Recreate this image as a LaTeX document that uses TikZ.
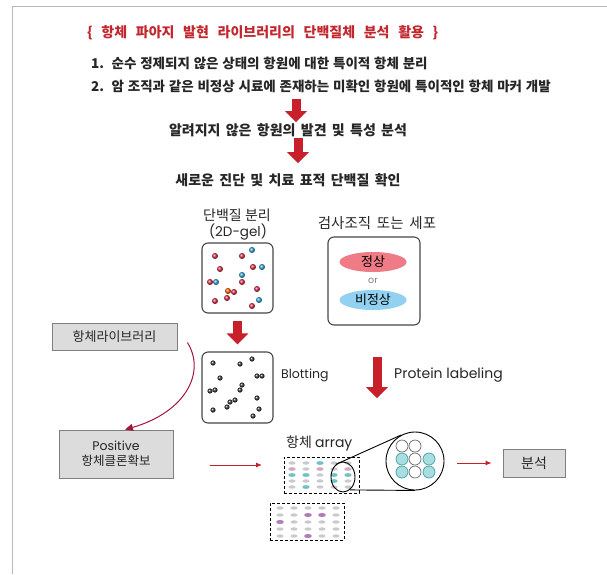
\documentclass[tikz,border=0pt]{standalone}
\usepackage{fontspec}
\setmainfont{Noto Sans CJK KR}
\newfontfamily\latin{Poppins}
\usetikzlibrary{arrows.meta,shapes.geometric}

\definecolor{TitleRed}{HTML}{C1272D}
\definecolor{ArrowRed}{HTML}{C8202A}
\definecolor{CurveRed}{HTML}{A3173F}
\definecolor{GelRed}{HTML}{E12A45}
\definecolor{GelBlue}{HTML}{2FA3DA}
\definecolor{NormalRed}{HTML}{EE7B85}
\definecolor{AbnormBlue}{HTML}{92D2F0}
\definecolor{SpotGray}{HTML}{C9C9CE}
\definecolor{SpotTeal}{HTML}{6CC3C3}
\definecolor{SpotPink}{HTML}{D9A6C0}
\definecolor{SpotPurple}{HTML}{B07CB8}
\definecolor{DotTeal}{HTML}{A8DDE2}
\definecolor{BoxGray}{HTML}{DCDCDC}
\definecolor{EdgeGray}{HTML}{7F7F7F}
\definecolor{Ink}{HTML}{262626}

% word spacing for the wide headings
\newcommand\headsp{\spaceskip=0.38em\relax}
\newcommand\listsp{\spaceskip=0.28em\relax}
\newcommand\titlesp{\spaceskip=0.62em\relax}
\newcommand\labelsp{\spaceskip=0.4em\relax}

\begin{document}
\begin{tikzpicture}[x=1pt,y=-1pt,font=\fontsize{13}{15}\selectfont,
  txt/.style={inner sep=1pt,text=Ink},
  head/.style={txt,font=\fontsize{14}{16}\selectfont\bfseries\headsp},
  listline/.style={txt,anchor=west,font=\fontsize{13.5}{16}\selectfont\bfseries\listsp},
  roundbox/.style={draw=Ink!85,line width=1.1pt,rounded corners=6pt},
  graybox/.style={draw=EdgeGray,fill=BoxGray,line width=0.8pt,align=center,text=Ink},
  arraybox/.style={draw=black,dash pattern=on 3pt off 2pt,line width=0.9pt},
  bigarrow/.style={ArrowRed,line width=9pt,-{Triangle[width=21pt,length=11pt]}},
  thinarrow/.style={ArrowRed,line width=0.9pt,-{Latex[length=6pt,width=5pt]}},
  curvearrow/.style={CurveRed,line width=1pt,-{Triangle[length=8pt,width=7pt]}}]
  \useasboundingbox (0,0) rectangle (607,574);

  % frame
  \draw[gray!55,line width=0.8pt] (12,574) |- (607,6);

  % headings
  \node[head,anchor=west,text=TitleRed,font=\fontsize{14}{16}\selectfont\bfseries\titlesp] (title) at (86,33)
    {\{ 항체 파아지 발현 라이브러리의 단백질체 분석 활용 \}};
  \node[listline] (line1) at (90,63)
    {1.\ \ 순수 정제되지 않은 상태의 항원에 대한 특이적 항체 분리};
  \node[listline] (line2) at (90,86)
    {2.\ \ 암 조직과 같은 비정상 시료에 존재하는 미확인 항원에 특이적인 항체 마커 개발};
  \node[head] (find) at (288,130) {알려지지 않은 항원의 발견 및 특성 분석};
  \node[head] (confirm) at (288,180) {새로운 진단 및 치료 표적 단백질 확인};

  \coordinate (a1) at (296,0);
  \coordinate (a2) at (298,0);
  \draw[bigarrow,shorten <=5pt] (line2.south -| a1) -- (find.north -| a1);
  \draw[bigarrow,shorten >=9pt] (find.south -| a2) -- (confirm.north -| a2);

  % 2D gel
  \node[txt,font=\fontsize{14}{16}\selectfont] (gellabel) at (237,215) {단백질 분리};
  \node[txt,font=\latin\fontsize{13.5}{15}\selectfont] (gelsub) at (238,232) {(2D-gel)};
  \node[roundbox,minimum width=71pt,minimum height=70pt] (gel) at (237.5,278) {};
  \foreach \x/\y in {215/256,242/256,220/269,253/267,210/282,242/282,257/289,
                     234/292,227/298,215/301,252/306}
    \shade[ball color=GelRed] (\x,\y) circle (3pt);
  \foreach \x/\y in {252/250,262/267,242/275,216/282,259/300}
    \shade[ball color=GelBlue] (\x,\y) circle (3pt);
  \shade[ball color=orange!70!red] (228,291) circle (3pt);

  % tissue or cells
  \node[txt,font=\fontsize{14.5}{16}\selectfont\labelsp] (biolabel) at (377,223) {검사조직 또는 세포};
  \node[roundbox,minimum width=92pt,minimum height=88pt] (bio) at (374,281) {};
  \node[ellipse,fill=NormalRed,minimum width=67pt,minimum height=20pt,inner sep=0pt] (normal) at (373,262) {정상};
  \node[txt,font=\latin\fontsize{9.5}{10}\selectfont,text=gray] (or) at (373,281) {or};
  \node[ellipse,fill=AbnormBlue,minimum width=67pt,minimum height=20pt,inner sep=0pt] (abnormal) at (373,300) {비정상};

  % blotting
  \node[roundbox,minimum width=71pt,minimum height=71pt] (blot) at (237.5,387.5) {};
  \foreach \x/\y in {213/363,240/364,252/359,220/378,257/376,262/376,242/385,
                     240/390,210/391,215/390,257/398,230/402,235/400,227/407,
                     213/410,259/409,253/416}
    \shade[ball color=black!80] (\x,\y) circle (2.6pt);
  \node[txt,anchor=west,font=\latin\fontsize{12.5}{14}\selectfont] (blotlabel) at (280,375) {Blotting};
  \draw[bigarrow,shorten <=7pt,shorten >=7pt] (gel.south) -- (blot.north);

  % library and clones
  \node[graybox,minimum width=125pt,minimum height=27pt] (lib) at (114.5,336.5) {항체라이브러리};
  \node[graybox,minimum width=114pt,minimum height=48pt,font=\fontsize{12.5}{15}\selectfont] (pos) at (116,454)
    {{\latin Positive}\\항체클론확보};
  \draw[curvearrow] ([xshift=10pt,yshift=-6pt]lib.east) .. controls (206,372) and (186,412) .. ([xshift=9pt]pos.north);

  % antibody array
  \node[txt,anchor=west,font=\fontsize{14}{16}\selectfont] (arrlabel) at (285,443) {항체 {\latin array}};
  \node[arraybox,minimum width=75pt,minimum height=36pt] (arr1) at (321.5,475) {};
  \node[arraybox,minimum width=74pt,minimum height=37pt] (arr2) at (307,521.5) {};
  \foreach \x in {292,306,320,334,348}
    \foreach \y in {463,469,475,481,487}
      \fill[SpotGray] (\x,\y) ellipse [x radius=3.6pt,y radius=1.7pt];
  \foreach \x/\y in {320/463,292/475,306/475,334/475,348/475,334/481,306/487}
    \fill[SpotTeal] (\x,\y) ellipse [x radius=3.6pt,y radius=1.8pt];
  \foreach \x/\y in {292/469,320/469,348/469}
    \fill[SpotPink] (\x,\y) ellipse [x radius=3.6pt,y radius=1.7pt];
  \foreach \x in {280,294,308,322,336}
    \foreach \y in {508,515,522,529,536}
      \fill[SpotGray] (\x,\y) ellipse [x radius=3.6pt,y radius=1.7pt];
  \foreach \x/\y in {308/515,322/515,280/522,308/536}
    \fill[SpotPurple] (\x,\y) ellipse [x radius=3.8pt,y radius=2pt];

  % magnifier
  \node[ellipse,draw=black,line width=0.9pt,minimum width=24pt,minimum height=30pt,inner sep=0pt] (lens) at (343,477) {};
  \node[circle,draw=black,line width=0.9pt,minimum size=58pt,inner sep=0pt] (mag) at (415,461) {};
  \draw[line width=0.9pt] (lens.120) -- (mag.118);
  \draw[line width=0.9pt] (lens.-62) -- (mag.-90);
  \foreach \x/\y in {402/446,415/446,415/459,415/472}
    \draw[gray!80!black,fill=white,line width=0.7pt] (\x,\y) circle (6pt);
  \foreach \x/\y in {402/459,429/459,402/472,429/472}
    \draw[teal!70,fill=DotTeal,line width=0.8pt] (\x,\y) circle (6pt);

  % protein labeling
  \coordinate (pl) at (377,357);
  \draw[bigarrow,shorten >=36pt] (pl) -- (pl |- arrlabel.north);
  \node[txt,anchor=west,font=\latin\fontsize{14}{16}\selectfont] (pllabel) at (393,375) {Protein labeling};

  % analysis
  \node[graybox,minimum width=62pt,minimum height=28pt,font=\fontsize{14}{16}\selectfont] (result) at (534,463) {분석};
  \coordinate (p1) at (210,465);
  \coordinate (p2) at (262,465);
  \draw[thinarrow] (p1) -- (p2);
  \draw[thinarrow,shorten <=13pt,shorten >=11pt] (mag.east |- result.west) -- (result.west);
\end{tikzpicture}
\end{document}
